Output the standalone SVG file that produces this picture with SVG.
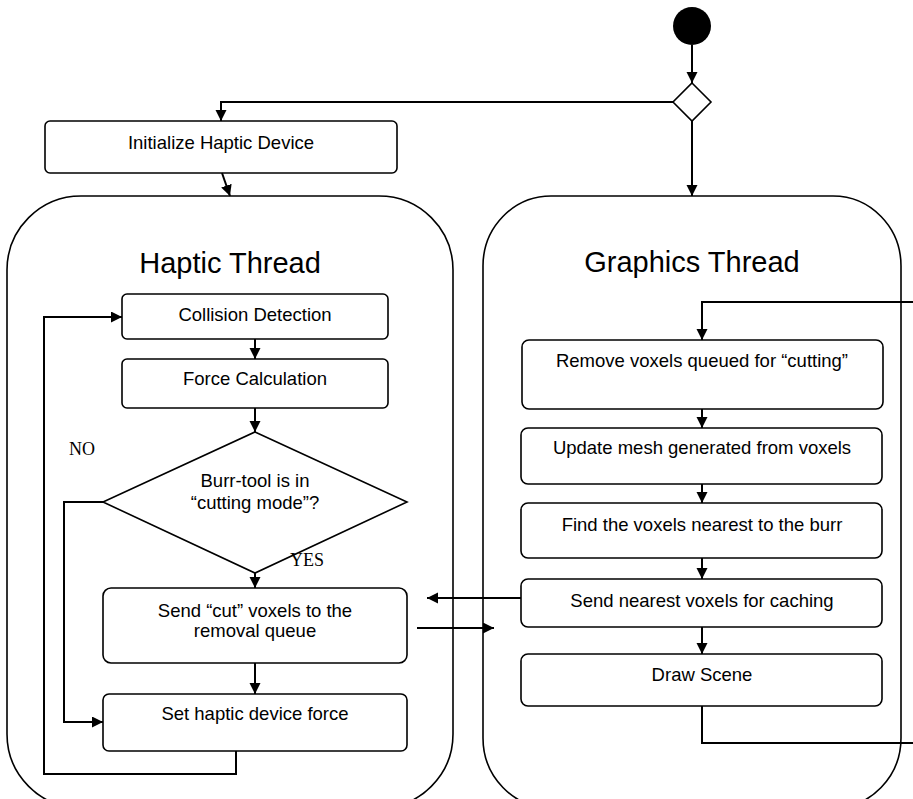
<svg xmlns="http://www.w3.org/2000/svg" width="913" height="799" viewBox="0 0 913 799">
<style>
.box{fill:#fff;stroke:#000;stroke-width:1.6}
.cont{fill:none;stroke:#000;stroke-width:1.6}
.lbl{font-family:"Liberation Sans",Arial,sans-serif;font-size:18.5px;fill:#000;text-anchor:middle}
.title{font-family:"Liberation Sans",Arial,sans-serif;font-size:29px;fill:#000;text-anchor:middle}
.tm{font-family:"Liberation Serif","Times New Roman",serif;font-size:18px;fill:#000}
.ln{fill:none;stroke:#000;stroke-width:2}
</style>
<defs>
<marker id="ah" markerWidth="12" markerHeight="12" refX="11" refY="5.5" orient="auto" markerUnits="userSpaceOnUse">
<path d="M0,0 L11,5.5 L0,11 Z" fill="#000"/>
</marker>
</defs>
<g id="containers">
<g id="haptic-thread">
<rect class="cont" x="7" y="196" width="446" height="612" rx="74" ry="74"/>
<text class="title" x="230" y="273">Haptic Thread</text>
</g>
<g id="graphics-thread">
<rect class="cont" x="483" y="196" width="418" height="612" rx="68" ry="70"/>
<text class="title" x="692" y="272">Graphics Thread</text>
</g>
</g>
<g id="start"><circle cx="692" cy="26" r="19" fill="#000"/></g>
<g id="decision-top"><path d="M692,83 L711,102 L692,121 L673,102 Z" fill="#fff" stroke="#000" stroke-width="1.6"/></g>
<g id="init"><rect class="box" x="45" y="121" width="352" height="52" rx="5"/><text class="lbl" x="221" y="149">Initialize Haptic Device</text></g>
<g id="collision"><rect class="box" x="122" y="294" width="266" height="45" rx="5"/><text class="lbl" x="255" y="321">Collision Detection</text></g>
<g id="force"><rect class="box" x="122" y="359" width="266" height="49" rx="5"/><text class="lbl" x="255" y="385">Force Calculation</text></g>
<g id="decision-cut"><path d="M255,432 L407,502 L255,573 L103,502 Z" fill="#fff" stroke="#000" stroke-width="1.6"/>
<text class="lbl" x="255" y="487">Burr-tool is in</text><text class="lbl" x="255" y="509">“cutting mode”?</text></g>
<g id="send-cut"><rect class="box" x="103" y="588" width="304" height="75" rx="8"/><text class="lbl" x="255" y="617">Send “cut” voxels to the</text><text class="lbl" x="255" y="637">removal queue</text></g>
<g id="set-force"><rect class="box" x="103" y="694" width="304" height="57" rx="6"/><text class="lbl" x="255" y="720">Set haptic device force</text></g>
<g id="remove"><rect class="box" x="522" y="340" width="361" height="69" rx="7"/><text class="lbl" x="702" y="367">Remove voxels queued for “cutting”</text></g>
<g id="update"><rect class="box" x="521" y="428" width="361" height="56" rx="7"/><text class="lbl" x="702" y="454">Update mesh generated from voxels</text></g>
<g id="find"><rect class="box" x="521" y="503" width="361" height="55" rx="7"/><text class="lbl" x="702" y="531">Find the voxels nearest to the burr</text></g>
<g id="send-nearest"><rect class="box" x="521" y="579" width="361" height="48" rx="7"/><text class="lbl" x="702" y="607">Send nearest voxels for caching</text></g>
<g id="draw"><rect class="box" x="521" y="654" width="361" height="52" rx="7"/><text class="lbl" x="702" y="681">Draw Scene</text></g>
<g id="labels"><text class="tm" x="69" y="455">NO</text><text class="tm" x="290" y="566">YES</text></g>
<g id="connectors">
<path class="ln" d="M692,45 L692,83" marker-end="url(#ah)"/>
<path class="ln" d="M673,102 L221,102 L221,121" marker-end="url(#ah)"/>
<path class="ln" d="M692,121 L692,196" marker-end="url(#ah)"/>
<path class="ln" d="M222,173 L230,196" marker-end="url(#ah)"/>
<path class="ln" d="M255,339 L255,359" marker-end="url(#ah)"/>
<path class="ln" d="M255,408 L255,432" marker-end="url(#ah)"/>
<path class="ln" d="M255,573 L255,588" marker-end="url(#ah)"/>
<path class="ln" d="M255,663 L255,694" marker-end="url(#ah)"/>
<path class="ln" d="M103,502 L64,502 L64,722 L103,722" marker-end="url(#ah)"/>
<path class="ln" d="M236,751 L236,774 L44,774 L44,317 L122,317" marker-end="url(#ah)"/>
<path class="ln" d="M920,302 L702,302 L702,340" marker-end="url(#ah)"/>
<path class="ln" d="M702,409 L702,428" marker-end="url(#ah)"/>
<path class="ln" d="M702,484 L702,503" marker-end="url(#ah)"/>
<path class="ln" d="M702,558 L702,579" marker-end="url(#ah)"/>
<path class="ln" d="M702,627 L702,654" marker-end="url(#ah)"/>
<path class="ln" d="M702,706 L702,743 L920,743"/>
<path class="ln" d="M521,598 L427,598" marker-end="url(#ah)"/>
<path class="ln" d="M417,628 L494,628" marker-end="url(#ah)"/>
</g>
</svg>
